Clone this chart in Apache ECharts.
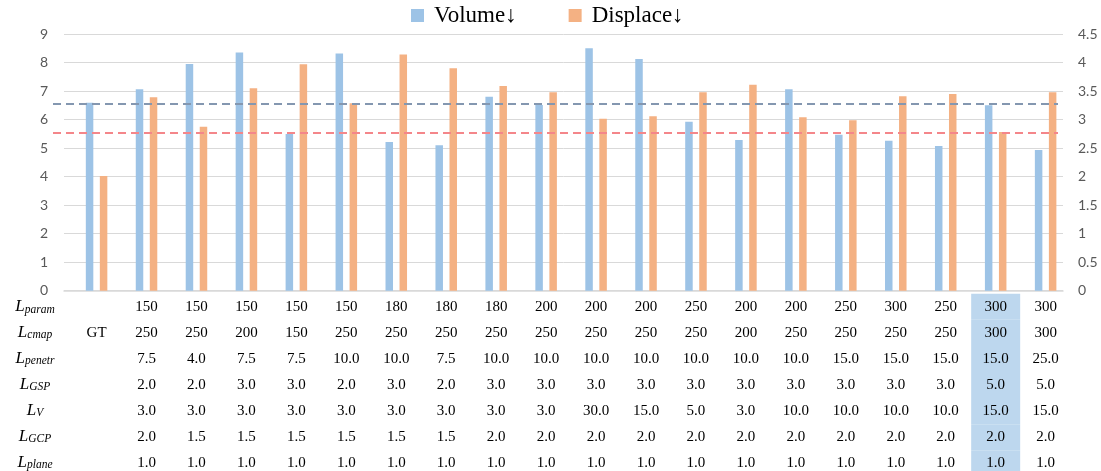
<!DOCTYPE html>
<html>
<head>
<meta charset="utf-8">
<script src="https://cdn.jsdelivr.net/npm/echarts@6/dist/echarts.min.js"></script>
<style>
html,body{margin:0;padding:0;background:#fff;}
#chart{width:1101px;height:471px;}
</style>
</head>
<body>
<div id="chart"></div>
<script>
const categories = ['GT','c1','c2','c3','c4','c5','c6','c7','c8','c9','c10','c11','c12','c13','c14','c15','c16','c17','c18','c19'];
const volume   = [6.59, 7.06, 7.95, 8.35, 5.49, 8.32, 5.21, 5.10, 6.80, 6.51, 8.50, 8.12, 5.92, 5.28, 7.06, 5.47, 5.26, 5.07, 6.50, 4.93];
const displace = [2.01, 3.39, 2.875, 3.55, 3.97, 3.285, 4.14, 3.90, 3.59, 3.48, 3.015, 3.06, 3.48, 3.61, 3.04, 2.99, 3.41, 3.45, 2.78, 3.48];
const refVolume = 6.54;   // left axis
const refDisplace = 2.77; // right axis

const rowNames = ['param','cmap','penetr','GSP','V','GCP','plane'];
const lParam  = ['', '150','150','150','150','150','180','180','180','200','200','200','250','200','200','250','300','250','300','300'];
const lCmap   = ['GT','250','250','200','150','250','250','250','250','250','250','250','250','200','250','250','250','250','300','300'];
const lPenetr = ['', '7.5','4.0','7.5','7.5','10.0','10.0','7.5','10.0','10.0','10.0','10.0','10.0','10.0','10.0','15.0','15.0','15.0','15.0','25.0'];
const lGSP    = ['', '2.0','2.0','3.0','3.0','2.0','3.0','2.0','3.0','3.0','3.0','3.0','3.0','3.0','3.0','3.0','3.0','3.0','5.0','5.0'];
const lV      = ['', '3.0','3.0','3.0','3.0','3.0','3.0','3.0','3.0','3.0','30.0','15.0','5.0','3.0','10.0','10.0','10.0','10.0','15.0','15.0'];
const lGCP    = ['', '2.0','1.5','1.5','1.5','1.5','1.5','1.5','2.0','2.0','2.0','2.0','2.0','2.0','2.0','2.0','2.0','2.0','2.0','2.0'];
const lPlane  = ['', '1.0','1.0','1.0','1.0','1.0','1.0','1.0','1.0','1.0','1.0','1.0','1.0','1.0','1.0','1.0','1.0','1.0','1.0','1.0'];
const tableRows = [lParam, lCmap, lPenetr, lGSP, lV, lGCP, lPlane];
const highlightIndex = 18;

const leftTicks = {min:0, max:9, interval:1};
const rightTicks = {min:0, max:4.5, interval:0.5};

const ROW_H = 26.1;
const TOP = 34, BOTTOM = 180.3;

const chart = echarts.init(document.getElementById('chart'));

const axisLabelStyle = {color:'#595959', fontFamily:'Lato', fontSize:14};
const serif = 'Liberation Serif';

const rowGraphics = rowNames.map((n, i) => ({
  type:'text',
  x: 35, y: 307 + 25.9*i,
  style:{
    text:'{L|L}{s|' + n + '}',
    align:'center', verticalAlign:'middle',
    textAlign:'center', textVerticalAlign:'middle',
    rich:{
      L:{fontFamily:serif, fontStyle:'italic', fontSize:17, lineHeight:22, fill:'#000', color:'#000'},
      s:{fontFamily:serif, fontStyle:'italic', fontSize:11.5, lineHeight:22, padding:[5,0,0,0], fill:'#000', color:'#000'}
    }
  }
}));

const gridBase = {top:TOP, bottom:BOTTOM, containLabel:false, outerBoundsMode:'none'};

const option = {
  animation:false,
  backgroundColor:'#fff',
  legend:{
    data:['Volume↓','Displace↓'],
    left:411, top:4, padding:0,
    itemWidth:13, itemHeight:13, itemGap:52,
    icon:'rect',
    textStyle:{fontFamily:serif, fontSize:23, color:'#000', padding:[0,0,0,5]}
  },
  grid:[
    Object.assign({left:71.6, right:30.4}, gridBase),
    Object.assign({left:64, right:38}, gridBase),
    Object.assign({left:53, right:43}, gridBase)
  ],
  xAxis:[
    {type:'category', gridIndex:0, data:categories,
      axisLine:{show:false}, axisTick:{show:false}, splitLine:{show:false},
      axisLabel:{
        interval:0, margin:3, hideOverlap:false,
        formatter:(v, idx) => tableRows.map(r => {
          const t = r[idx] === '' ? '\u00a0' : r[idx];
          return (idx === highlightIndex ? '{h|' : '{v|') + t + '}';
        }).join('\n'),
        rich:{
          v:{fontFamily:serif, fontSize:15, color:'#000', width:49, height:ROW_H, lineHeight:ROW_H, align:'center'},
          h:{fontFamily:serif, fontSize:15, color:'#000', width:49, height:ROW_H, lineHeight:ROW_H, align:'center', backgroundColor:'#BDD7EE'}
        }
      }
    },
    {type:'category', gridIndex:1, data:categories,
      axisLine:{show:true, lineStyle:{color:'#d9d9d9', width:1.5}},
      axisTick:{show:false}, axisLabel:{show:false}, splitLine:{show:false}},
    {type:'value', gridIndex:2, min:0, max:1, show:false}
  ],
  yAxis:[
    Object.assign({type:'value', gridIndex:0, show:false, splitLine:{show:false}}, leftTicks),
    Object.assign({type:'value', gridIndex:0, show:false, splitLine:{show:false}}, rightTicks),
    Object.assign({type:'value', gridIndex:1, position:'left',
      axisLine:{show:false}, axisTick:{show:false},
      axisLabel:Object.assign({margin:16}, axisLabelStyle),
      splitLine:{show:true, lineStyle:{color:'#d9d9d9', width:1}}}, leftTicks),
    Object.assign({type:'value', gridIndex:1, position:'right',
      axisLine:{show:false}, axisTick:{show:false},
      axisLabel:Object.assign({margin:15}, axisLabelStyle),
      splitLine:{show:false}}, rightTicks),
    Object.assign({type:'value', gridIndex:2, show:false, splitLine:{show:false}}, leftTicks),
    Object.assign({type:'value', gridIndex:2, show:false, splitLine:{show:false}}, rightTicks)
  ],
  series:[
    {name:'Volume↓', type:'bar', xAxisIndex:0, yAxisIndex:0, data:volume,
      barWidth:7.5, barGap:'87%', itemStyle:{color:'#9DC3E6'}},
    {name:'Displace↓', type:'bar', xAxisIndex:0, yAxisIndex:1, data:displace,
      barWidth:7.5, barGap:'87%', itemStyle:{color:'#F4B183'}},
    {type:'scatter', xAxisIndex:2, yAxisIndex:4, data:[], silent:true,
      markLine:{symbol:'none', silent:true, label:{show:false},
        data:[{yAxis:refVolume, lineStyle:{color:'#8497B0', width:2, type:[8,5]}}]}},
    {type:'scatter', xAxisIndex:2, yAxisIndex:5, data:[], silent:true,
      markLine:{symbol:'none', silent:true, label:{show:false},
        data:[{yAxis:refDisplace, lineStyle:{color:'#F4868A', width:2, type:[8,5]}}]}}
  ],
  graphic: rowGraphics
};
chart.setOption(option);
</script>
</body>
</html>
